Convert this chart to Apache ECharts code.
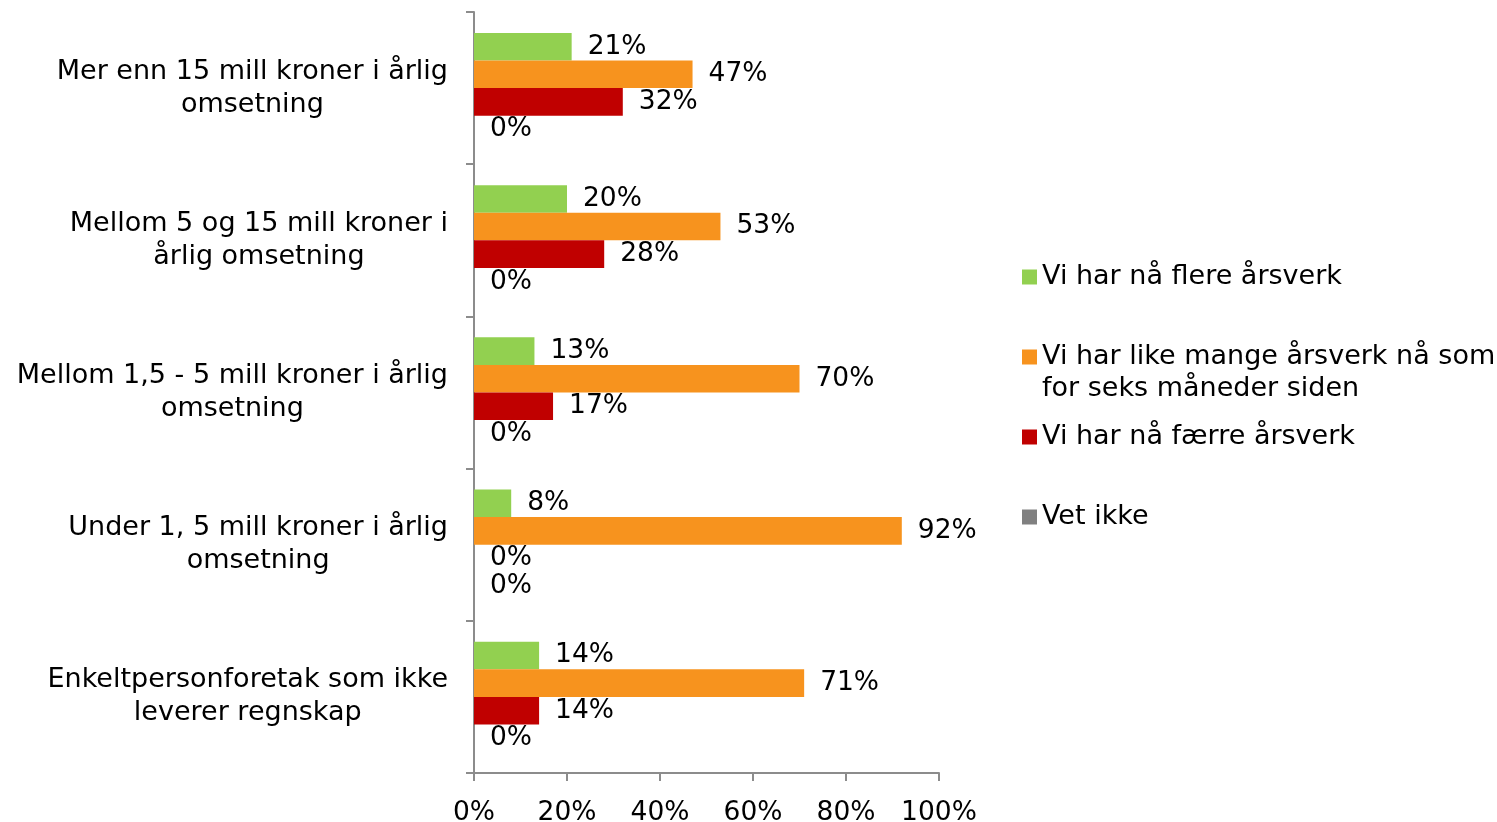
<!DOCTYPE html>
<html>
<head>
<meta charset="utf-8">
<script src="https://cdn.jsdelivr.net/npm/echarts@6/dist/echarts.min.js"></script>
<style>
  html, body { margin: 0; padding: 0; background: #fff; }
  #chart { width: 1497px; height: 822px; }
</style>
</head>
<body>
<div id="chart"></div>
<script>
// kategorier, ovenfra og ned
const categories = [
  'Mer enn 15 mill kroner i årlig\nomsetning',
  'Mellom 5 og 15 mill kroner i\nårlig omsetning',
  'Mellom 1,5 - 5 mill kroner i årlig\nomsetning',
  'Under 1, 5 mill kroner i årlig\nomsetning',
  'Enkeltpersonforetak som ikke\nleverer regnskap'
]
const seriesNames = [
  'Vi har nå flere årsverk',
  'Vi har like mange årsverk nå som\nfor seks måneder siden',
  'Vi har nå færre årsverk',
  'Vet ikke'
]
const flere = [21, 20, 13, 8, 14]
const likeMange = [47, 53, 70, 92, 71]
const faerre = [32, 28, 17, 0, 14]
const vetIkke = [0, 0, 0, 0, 0]
const xTicks = [0, 20, 40, 60, 80, 100]
const colors = ['#92d050', '#f7931e', '#c00000', '#808080']

const font = 'DejaVu Sans, Verdana, sans-serif'
const chart = echarts.init(document.getElementById('chart'))

const values = [flere, likeMange, faerre, vetIkke]
const series = values.map((data, i) => ({
  name: seriesNames[i],
  type: 'bar',
  data: data,
  barGap: 0,
  barCategoryGap: '27.5%',
  itemStyle: { color: colors[i] },
  label: {
    show: true,
    position: 'right',
    distance: 16,
    formatter: '{c}%',
    color: '#000',
    fontFamily: font,
    fontSize: 26.5
  }
}))

// en legend per serie for å treffe den ujevne avstanden
const legendTops = [256, 304, 416, 496]
const legends = seriesNames.map((name, i) => ({
  data: [name],
  orient: 'vertical',
  left: 1017,
  top: legendTops[i],
  itemWidth: 15,
  itemHeight: 15,
  itemGap: 0,
  icon: 'rect',
  selectedMode: false,
  // tom linje over teksten så ikonet står ved første linje
  formatter: i === 1 ? (n => ' \n' + n) : '{name}',
  textStyle: {
    fontFamily: font,
    fontSize: 27,
    color: '#000',
    lineHeight: 32
  }
}))

const option = {
  animation: false,
  legend: legends,
  grid: { left: 474, right: 558, top: 12, bottom: 49, outerBoundsMode: 'none' },
  xAxis: {
    type: 'value',
    min: 0,
    max: 100,
    interval: 20,
    axisLine: { show: true, lineStyle: { color: '#8c8c8c', width: 2 } },
    axisTick: { show: true, length: 8, lineStyle: { color: '#8c8c8c', width: 2 } },
    splitLine: { show: false },
    axisLabel: {
      formatter: v => xTicks.includes(v) ? v + '%' : '',
      color: '#000',
      fontFamily: font,
      fontSize: 26.5,
      margin: 27
    }
  },
  yAxis: {
    type: 'category',
    inverse: true,
    data: categories,
    axisLine: { show: true, lineStyle: { color: '#8c8c8c', width: 2 } },
    axisTick: { show: true, length: 8, lineStyle: { color: '#8c8c8c', width: 2 } },
    axisLabel: {
      margin: 26,
      formatter: v => v.split('\n').map(s => '{c|' + s + '}').join('\n'),
      rich: {
        c: {
          align: 'center',
          color: '#000',
          fontFamily: font,
          fontSize: 27,
          lineHeight: 33
        }
      }
    }
  },
  series: series
}
chart.setOption(option)
</script>
</body>
</html>
